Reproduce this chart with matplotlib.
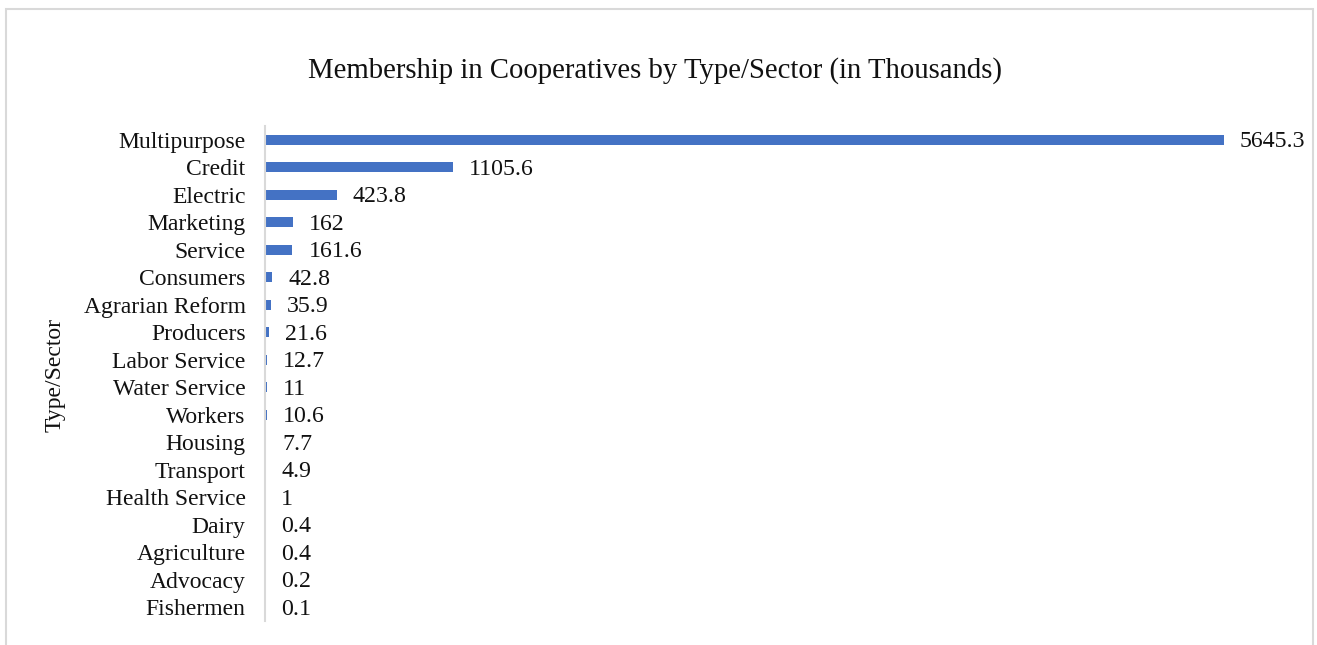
import matplotlib

matplotlib.use("Agg")
import matplotlib.pyplot as plt
from matplotlib.patches import Rectangle

# data (thousands of members)
categories = [
    "Multipurpose", "Credit", "Electric", "Marketing", "Service", "Consumers",
    "Agrarian Reform", "Producers", "Labor Service", "Water Service", "Workers",
    "Housing", "Transport", "Health Service", "Dairy", "Agriculture",
    "Advocacy", "Fishermen",
]
members = [
    5645.3, 1105.6, 423.8, 162, 161.6, 42.8,
    35.9, 21.6, 12.7, 11, 10.6,
    7.7, 4.9, 1, 0.4, 0.4,
    0.2, 0.1,
]
value_labels = [
    "5645.3", "1105.6", "423.8", "162", "161.6", "42.8",
    "35.9", "21.6", "12.7", "11", "10.6",
    "7.7", "4.9", "1", "0.4", "0.4",
    "0.2", "0.1",
]

plt.rcParams["font.family"] = ["Liberation Serif", "DejaVu Serif"]

W, H = 1317, 645
fig = plt.figure(figsize=(W / 100, H / 100), dpi=100)

# light grey frame round the chart (bottom edge falls outside the image)
fig.patches.append(Rectangle((6 / W, -0.1), (1313 - 6) / W, (H - 9) / H + 0.1,
                             transform=fig.transFigure, fill=False,
                             edgecolor="#d9d9d9", linewidth=1.5))

ax = fig.add_axes([265 / W, 24 / H, 1035 / W, 495 / H])
y = list(range(len(categories)))
ax.barh(y, members, height=0.36, color="#4472C4")

ax.set_ylim(len(categories) - 0.5, -0.5)
ax.set_xlim(0, 5645.3 * 1035 / 959)

for yi, v, lab in zip(y, members, value_labels):
    ax.annotate(lab, xy=(v, yi), xytext=(11.5, -1.5), textcoords="offset points",
                ha="left", va="center", fontsize=17.2, color="#111111")

ax.set_yticks(y)
ax.set_yticklabels(categories, fontsize=17, color="#111111")
ax.tick_params(axis="y", length=0, pad=14)
ax.set_xticks([])

for side in ("top", "right", "bottom"):
    ax.spines[side].set_visible(False)
ax.spines["left"].set_color("#d9d9d9")
ax.spines["left"].set_linewidth(1.5)

fig.text(0.497, 1 - 71 / H, "Membership in Cooperatives by Type/Sector (in Thousands)",
         ha="center", va="center", fontsize=20.7, color="#111111")
fig.text(55 / W, 1 - 375 / H, "Type/Sector", rotation=90,
         ha="center", va="center", fontsize=17, color="#111111")

fig.savefig("out.png", dpi=100)
plt.close(fig)
